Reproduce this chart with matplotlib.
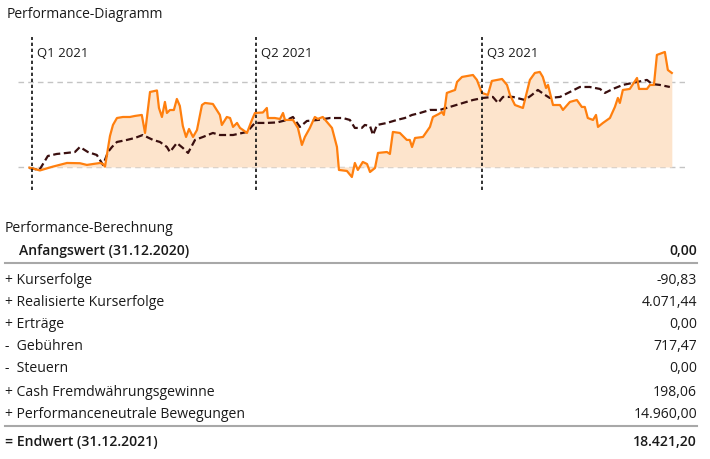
import numpy as np
import matplotlib.pyplot as plt

plt.rcParams['font.family'] = ['Open Sans', 'DejaVu Sans']

# portfolio performance in %, x = days since 01.01.2021
depot_days = [-1, 3.2, 8.4, 14.1, 19.3, 22.1, 27.4, 28.6, 29.4, 31.4, 32.6, 34.2, 36.6, 39.4,
              41.4, 44.2, 45.5, 47.5, 50.3, 51.1, 52.3, 53.5, 54.3, 55.5, 57.1, 58.3, 59.5,
              60.7, 62.0, 63.2, 64.8, 66.4, 68.4, 69.6, 72.8, 75.6, 76.4, 78.4, 79.7, 80.9,
              82.5, 83.7, 84.9, 86.5, 88.5, 89.7, 92.9, 94.5, 94.9, 97.7, 99.8, 101, 101.8,
              105, 107, 108.6, 109.8, 111.8, 113.8, 115, 117, 120.7, 122.7, 123.5, 126.7,
              128.7, 129.9, 131.1, 133.1, 134.8, 136, 138, 139.2, 142.8, 144, 145.2, 148,
              150.8, 152, 152.9, 154.1, 157.3, 160.1, 161.3, 163.7, 164.9, 165.7, 166.9,
              170.2, 171, 173, 177.4, 179, 181, 183.4, 185, 189.1, 191.1, 192.3, 194.3,
              197.5, 200.3, 202.3, 204.3, 205.5, 206.8, 207.6, 209.6, 212.4, 213.6, 216.4,
              219.2, 221.2, 222.4, 223.6, 225.7, 226.9, 227.7, 229.7, 232.5, 234.5, 235.7,
              236.5, 237.7, 240.5, 243.4, 244.2, 247.4, 248.6, 250.2, 251.4, 254.6, 255.8,
              257.4]
depot_perf = [-0.08, -0.41, 0.04, 0.47, 0.44, 0.24, 0.47, 0.35, 0.04, 3.65, 4.94, 5.76, 5.88,
              5.88, 6.0, 6.12, 4.0, 8.82, 9.0, 6.94, 5.88, 7.65, 6.35, 6.7, 6.7, 8.0, 7.18,
              4.82, 3.53, 4.47, 3.53, 4.35, 7.29, 7.53, 7.41, 6.12, 4.94, 5.88, 5.76, 4.71,
              5.18, 4.59, 4.35, 4.0, 5.53, 6.35, 6.41, 6.94, 5.76, 5.76, 5.65, 6.35, 5.53,
              5.53, 4.59, 2.59, 3.53, 4.59, 5.88, 5.65, 5.88, 4.59, 2.35, -0.35, -0.47,
              -1.18, 0.47, -0.35, 0.59, 0.35, -0.59, -0.12, 1.65, 1.76, 1.53, 4.12, 4.0,
              3.18, 3.18, 2.35, 3.41, 3.53, 4.71, 5.88, 6.24, 6.47, 6.12, 8.71,
              9.06, 10.0, 10.59, 10.82, 10.24, 8.71, 8.47, 10.12, 10.35, 9.65, 8.47, 7.29,
              6.94, 10.24, 11.06, 11.18, 10.59, 9.29, 9.65, 7.29, 7.29, 6.71, 7.65,
              7.88, 7.06, 7.06, 5.76, 5.53, 6.12, 4.71, 5.18, 5.76, 7.06, 8.12,
              7.53, 9.06, 9.18, 10.47, 9.18, 9.18, 9.65, 9.65, 13.18, 13.53, 11.41,
              11.06]

# benchmark performance in %
bench_days = [-1, 3, 6.4, 10, 14, 17.3, 19.3, 22.5, 26.1, 28.6, 30.6, 32.2, 34.2, 38.2, 41.4,
              44.6, 48.7, 51.5, 54.3, 55.5, 58.3, 60.7, 62.8, 65.6, 68.8, 72.8, 75.6, 80.9,
              86.5, 89.7, 94.5, 98.6, 102.6, 105, 107.8, 110.6, 115, 119.9, 125.1, 127.9,
              129.9, 132.7, 133.9, 136, 137.2, 138.8, 142.8, 146.8, 150, 152.9, 156.1, 160.1,
              164.1, 168.1, 173.4, 177.4, 181.4, 185.4, 187.5, 189.5, 193.5, 198.3, 201.1,
              203.5, 206.4, 208.3, 212.4, 216.4, 220.4, 224.4, 228.5, 230.5, 233.7, 237.7,
              243.4, 247.4, 249.4, 252.6, 256.6]
bench_perf = [-0.12, -0.35, 1.29, 1.53, 1.65, 1.76, 2.35, 1.76, 1.41, 0.24, 1.76, 2.35, 2.94,
              3.18, 3.41, 3.76, 3.18, 2.94, 2.35, 1.76, 2.82, 2.24, 1.65, 3.18, 3.53, 4.0,
              3.76, 3.76, 4.12, 5.18, 5.18, 5.24, 5.53, 5.88, 4.71, 5.41, 5.53, 5.76, 5.76,
              5.53, 4.59, 4.59, 4.94, 4.82, 3.76, 4.94, 5.18, 5.53, 5.76, 6.12, 6.35, 6.71,
              6.71, 7.06, 7.53, 7.88, 8.12, 8.24, 7.53, 8.24, 8.24, 7.88, 8.47, 9.06, 8.47,
              8.12, 8.24, 8.82, 9.41, 9.41, 9.18, 8.71, 9.18, 9.65, 10.0, 10.24, 9.76, 9.65,
              9.41]

quarter_days = [0, 90, 181]
quarter_labels = ['Q1 2021', 'Q2 2021', 'Q3 2021']
grid_levels = [0, 10]

calc_labels = ['+ Kurserfolge', '+ Realisierte Kurserfolge', '+ Erträge', '-  Gebühren',
               '-  Steuern', '+ Cash Fremdwährungsgewinne', '+ Performanceneutrale Bewegungen']
calc_values = ['-90,83', '4.071,44', '0,00', '717,47', '0,00', '198,06', '14.960,00']
start_label, start_value = 'Anfangswert (31.12.2020)', '0,00'
end_label, end_value = '= Endwert (31.12.2021)', '18.421,20'

W, H = 710, 459
fig = plt.figure(figsize=(W / 100, H / 100), dpi=100)
txt = '#1a1a1a'

def fy(py):
    return 1 - py / H

def fx(px):
    return px / W

fig.text(fx(7), fy(14), 'Performance-Diagramm', fontsize=10, color=txt, va='center')

# chart area: pixels x 18..685, y 37..190
ax = fig.add_axes([fx(18), fy(190), fx(685 - 18), (190 - 37) / H])
ax.set_xlim(-5.6, 262.7)
ax.set_ylim(-2.71, 15.29)
ax.axis('off')

for g in grid_levels:
    ax.axhline(g, color='#c4c4c4', lw=1.0, ls=(0, (4, 3)), zorder=1)

ax.fill_between(depot_days, depot_perf, 0, color='#fde4cc', lw=0, zorder=2)
ax.plot(depot_days, depot_perf, color='#ff7f0e', lw=1.6, zorder=4, solid_joinstyle='round')
ax.plot(bench_days, bench_perf, color='#3a0f0f', lw=1.6, ls=(0, (3.2, 1.6)), zorder=3)

for d, lab in zip(quarter_days, quarter_labels):
    ax.axvline(d, color='#111111', lw=1.2, ls=(0, (2, 1.6)), zorder=5)
    ax.text(d + 2.0, 13.4, lab, fontsize=9.5, color=txt, va='center', ha='left')

# calculation table
fs = 10.1
fig.text(fx(5), fy(229), 'Performance-Berechnung', fontsize=fs, color=txt, va='center')
fig.text(fx(19), fy(251), start_label, fontsize=fs, color=txt, va='center', weight='semibold')
fig.text(fx(697), fy(251), start_value, fontsize=fs, color=txt, va='center', ha='right',
         weight='semibold')
fig.add_artist(plt.Line2D([fx(5), fx(697)], [fy(263), fy(263)], color='#a8a8a8', lw=1.5))

row_y = [280, 302, 324, 347, 369, 392, 414]
for y, lab, val in zip(row_y, calc_labels, calc_values):
    fig.text(fx(5), fy(y), lab, fontsize=fs, color=txt, va='center')
    fig.text(fx(697), fy(y), val, fontsize=fs, color=txt, va='center', ha='right')

fig.add_artist(plt.Line2D([fx(5), fx(697)], [fy(426), fy(426)], color='#a8a8a8', lw=1.5))
fig.text(fx(5), fy(442), end_label, fontsize=fs, color=txt, va='center', weight='semibold')
fig.text(fx(697), fy(442), end_value, fontsize=fs, color=txt, va='center', ha='right',
         weight='semibold')

fig.savefig('out.png', dpi=100)
